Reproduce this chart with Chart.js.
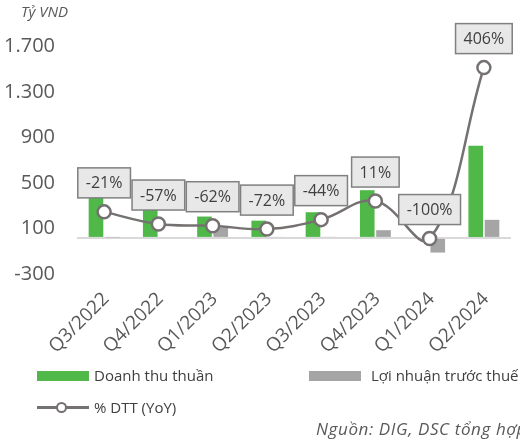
<!DOCTYPE html>
<html>
<head>
<meta charset="utf-8">
<script src="https://cdn.jsdelivr.net/npm/chart.js@4.4.1/dist/chart.umd.min.js"></script>
<style>
  body { margin: 0; background: #fff; overflow: hidden; font-family: "Open Sans", sans-serif; }
  #wrap { position: relative; width: 520px; height: 441px; overflow: hidden; }
  .txt { position: absolute; color: #404040; font-size: 15px; white-space: nowrap; line-height: 1; }
  .sw { position: absolute; }
</style>
</head>
<body>
<div id="wrap">
  <canvas id="chart"></canvas>
  <div class="txt" style="left:21px; top:4px; font-size:15px; font-style:italic; color:#595959;">Tỷ VND</div>

  <div class="sw" style="left:37px; top:371px; width:52px; height:10px; background:#4fb848;"></div>
  <div class="txt" style="left:94px; top:368px;">Doanh thu thuần</div>
  <div class="sw" style="left:309px; top:371px; width:52px; height:10px; background:#a5a5a5;"></div>
  <div class="txt" style="left:371px; top:368px;">Lợi nhuận trước thuế</div>

  <div class="sw" style="left:37px; top:406px; width:52px; height:3px; background:#767171;"></div>
  <div class="sw" style="left:56px; top:402px; width:7px; height:7px; border:2px solid #767171; border-radius:50%; background:#fff;"></div>
  <div class="txt" style="left:94px; top:400px;">% DTT (YoY)</div>

  <div class="txt" style="left:316px; top:420px; font-size:17px; letter-spacing:0.6px; font-style:italic; color:#595959;">Nguồn: DIG, DSC tổng hợp</div>
</div>
<script>
const quarters = ['Q3/2022', 'Q4/2022', 'Q1/2023', 'Q2/2023', 'Q3/2023', 'Q4/2023', 'Q1/2024', 'Q2/2024'];
const revenue = [352, 247, 188, 152, 226, 420, 0, 811];      // Doanh thu thuần
const profit = [5, 0, 91, 8, 10, 68, -129, 159];             // Lợi nhuận trước thuế
const revenueYoY = [-21, -57, -62, -72, -44, 11, -100, 406]; // % DTT (YoY)
const yTicks = [-300, 0, 100, 500, 900, 1300, 1700];

// nhãn % trong hộp xám phía trên điểm
const boxLabels = {
    id: 'boxLabels',
    afterDatasetsDraw(chart) {
        const ctx = chart.ctx;
        const meta = chart.getDatasetMeta(2);
        ctx.save();
        ctx.font = '16px "Open Sans"';
        ctx.textAlign = 'center';
        ctx.textBaseline = 'middle';
        meta.data.forEach((pt, i) => {
            const text = revenueYoY[i] + '%';
            const w = ctx.measureText(text).width + 16;
            const h = 30;
            const bottom = pt.y - 14;
            ctx.fillStyle = '#e8e8e8';
            ctx.strokeStyle = '#808080';
            ctx.lineWidth = 1.5;
            ctx.fillRect(pt.x - w / 2, bottom - h, w, h);
            ctx.strokeRect(pt.x - w / 2, bottom - h, w, h);
            ctx.fillStyle = '#404040';
            ctx.fillText(text, pt.x, bottom - h / 2 + 1);
        });
        ctx.restore();
    }
};

function fmt(v) {
    return String(v).replace(/\B(?=(\d{3})+(?!\d))/g, '.');
}

new Chart(document.getElementById('chart'), {
    type: 'bar',
    data: {
        labels: quarters,
        datasets: [{
            label: 'Doanh thu thuần',
            data: revenue,
            backgroundColor: '#4fb848',
            categoryPercentage: 0.6,
            barPercentage: 0.9,
            order: 1
        }, {
            label: 'Lợi nhuận trước thuế',
            data: profit,
            backgroundColor: '#a5a5a5',
            categoryPercentage: 0.6,
            barPercentage: 0.9,
            order: 1
        }, {
            type: 'line',
            label: '% DTT (YoY)',
            data: revenueYoY,
            yAxisID: 'y1',
            borderColor: '#767171',
            borderWidth: 2.5,
            pointRadius: 6.5,
            pointBorderWidth: 2.5,
            pointBackgroundColor: '#fff',
            pointBorderColor: '#767171',
            tension: 0.4,
            order: 0
        }]
    },
    options: {
        responsive: true,
        maintainAspectRatio: false,
        animation: false,
        layout: { padding: { top: 22, right: 3, left: 0, bottom: 0 } },
        plugins: {
            legend: { display: false },
            tooltip: { enabled: false }
        },
        scales: {
            x: {
                grid: { display: false, drawTicks: false },
                border: { display: false },
                ticks: {
                    autoSkip: false,
                    minRotation: 45,
                    maxRotation: 45,
                    padding: 16,
                    labelOffset: 2,
                    color: '#595959',
                    font: { family: 'Open Sans', size: 19 }
                },
                afterFit(scale) { scale.height = 169; }
            },
            y: {
                min: -300,
                max: 1900,
                afterBuildTicks(scale) { scale.ticks = yTicks.map(v => ({ value: v })); },
                grid: {
                    drawTicks: false,
                    color: c => (c.tick && c.tick.value === 0 ? '#d9d9d9' : 'rgba(0,0,0,0)'),
                    lineWidth: 2
                },
                border: { display: false },
                ticks: {
                    padding: 22,
                    labelOffset: 2,
                    color: '#595959',
                    font: { family: 'Open Sans', size: 20 },
                    callback: v => (v === 0 ? '' : fmt(v))
                },
                afterFit(scale) {
                    scale.width = 77;
                    scale.paddingTop = 0;
                    scale.paddingBottom = 0;
                }
            },
            y1: {
                display: false,
                min: -199,
                max: 541
            }
        }
    },
    plugins: [boxLabels]
});
</script>
</body>
</html>
